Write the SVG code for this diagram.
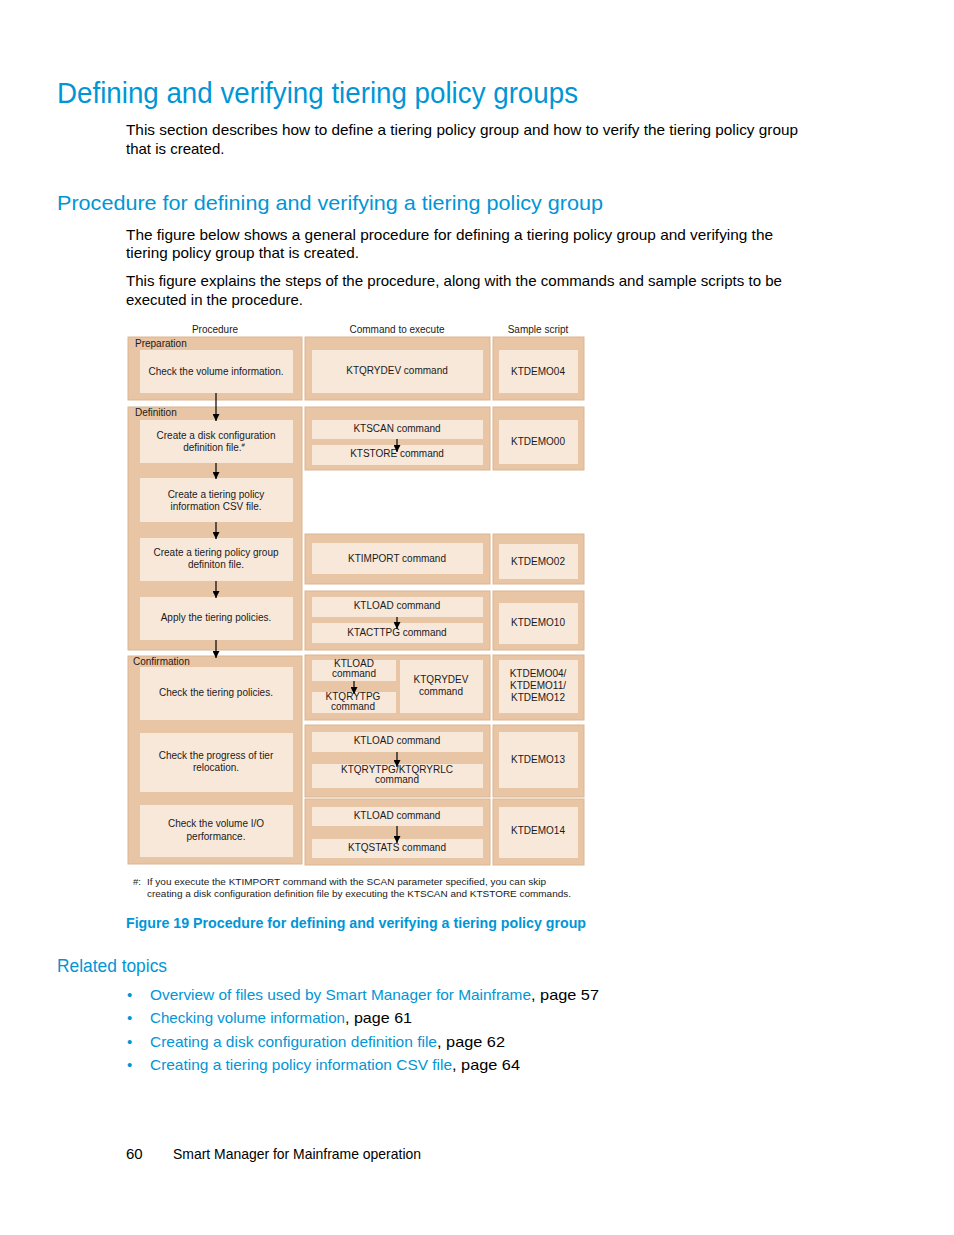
<svg xmlns="http://www.w3.org/2000/svg" width="954" height="1235" viewBox="0 0 954 1235">
<defs>
<style>
.h1{font-family:"Liberation Sans",Arial,sans-serif;font-size:29px;fill:#0096d6}
.h2{font-family:"Liberation Sans",Arial,sans-serif;font-size:21px;fill:#0096d6}
.h3{font-family:"Liberation Sans",Arial,sans-serif;font-size:18px;fill:#0096d6}
.body{font-family:"Liberation Sans",Arial,sans-serif;font-size:15px;fill:#000}
.link{font-family:"Liberation Sans",Arial,sans-serif;font-size:15px;fill:#0096d6}
.cap{font-family:"Liberation Sans",Arial,sans-serif;font-size:14px;font-weight:bold;fill:#0096d6}
.t{font-family:"Liberation Sans",Arial,sans-serif;font-size:10px;fill:#1a1a1a;text-anchor:middle}
.lbl{font-family:"Liberation Sans",Arial,sans-serif;font-size:10px;fill:#1a1a1a}
.fn{font-family:"Liberation Sans",Arial,sans-serif;font-size:9.5px;fill:#1a1a1a}
.outer{fill:#e8c5a5;stroke:#dbb593;stroke-width:1}
.inner{fill:#f8e8da;stroke:none}
.arr{stroke:#000;stroke-width:1.2;fill:none;marker-end:url(#ah)}
</style>
<marker id="ah" viewBox="0 0 10 10" refX="10" refY="5" markerWidth="8" markerHeight="7" orient="auto" markerUnits="userSpaceOnUse">
<path d="M0,0 L10,5 L0,10 z" fill="#000"/>
</marker>
</defs>
<rect width="954" height="1235" fill="#fff"/>

<text class="h1" x="57" y="103" textLength="521" lengthAdjust="spacingAndGlyphs">Defining and verifying tiering policy groups</text>
<text class="body" x="126" y="135" textLength="672" lengthAdjust="spacingAndGlyphs">This section describes how to define a tiering policy group and how to verify the tiering policy group</text>
<text class="body" x="126" y="154">that is created.</text>

<text class="h2" x="57" y="210" textLength="546" lengthAdjust="spacingAndGlyphs">Procedure for defining and verifying a tiering policy group</text>
<text class="body" x="126" y="240" textLength="647" lengthAdjust="spacingAndGlyphs">The figure below shows a general procedure for defining a tiering policy group and verifying the</text>
<text class="body" x="126" y="258" textLength="233" lengthAdjust="spacingAndGlyphs">tiering policy group that is created.</text>
<text class="body" x="126" y="286" textLength="656" lengthAdjust="spacingAndGlyphs">This figure explains the steps of the procedure, along with the commands and sample scripts to be</text>
<text class="body" x="126" y="305" textLength="177" lengthAdjust="spacingAndGlyphs">executed in the procedure.</text>

<!-- column headers -->
<text class="t" x="215" y="333">Procedure</text>
<text class="t" x="397" y="333">Command to execute</text>
<text class="t" x="538" y="333">Sample script</text>

<!-- Procedure column -->
<g id="preparation">
<rect class="outer" x="128" y="337" width="174" height="63"/>
<text class="lbl" x="135" y="347">Preparation</text>
<rect class="inner" x="140" y="350" width="153" height="43"/>
<text class="t" x="216" y="375">Check the volume information.</text>
</g>
<g id="definition">
<rect class="outer" x="128" y="407" width="174" height="243"/>
<text class="lbl" x="135" y="416">Definition</text>
</g>
<g id="step-disk">
<rect class="inner" x="140" y="420" width="153" height="43"/>
<text class="t" x="216" y="439">Create a disk configuration</text>
<text class="t" x="214" y="451">definition file.<tspan font-size="6" dy="-4">#</tspan></text>
</g>
<g id="step-csv">
<rect class="inner" x="140" y="478" width="153" height="44"/>
<text class="t" x="216" y="498">Create a tiering policy</text>
<text class="t" x="216" y="510">information CSV file.</text>
</g>
<g id="step-group">
<rect class="inner" x="140" y="538" width="153" height="43"/>
<text class="t" x="216" y="556">Create a tiering policy group</text>
<text class="t" x="216" y="568">definiton file.</text>
</g>
<g id="step-apply">
<rect class="inner" x="140" y="597" width="153" height="43"/>
<text class="t" x="216" y="621">Apply the tiering policies.</text>
</g>
<g id="confirmation">
<rect class="outer" x="128" y="656" width="174" height="208"/>
<text class="lbl" x="133" y="665">Confirmation</text>
</g>
<g id="step-check-policies">
<rect class="inner" x="140" y="667" width="153" height="53"/>
<text class="t" x="216" y="696">Check the tiering policies.</text>
</g>
<g id="step-check-progress">
<rect class="inner" x="140" y="733" width="153" height="59"/>
<text class="t" x="216" y="759">Check the progress of tier</text>
<text class="t" x="216" y="771">relocation.</text>
</g>
<g id="step-check-io">
<rect class="inner" x="140" y="805" width="153" height="52"/>
<text class="t" x="216" y="827">Check the volume I/O</text>
<text class="t" x="216" y="840">performance.</text>
</g>

<!-- Command column -->
<g id="cmd-ktqrydev">
<rect class="outer" x="305" y="337" width="185" height="63"/>
<rect class="inner" x="312" y="350" width="171" height="43"/>
<text class="t" x="397" y="374">KTQRYDEV command</text>
</g>
<g id="cmd-ktscan">
<rect class="outer" x="305" y="407" width="185" height="63"/>
<rect class="inner" x="312" y="420" width="171" height="19"/>
<text class="t" x="397" y="432">KTSCAN command</text>
<rect class="inner" x="312" y="445" width="171" height="20"/>
<text class="t" x="397" y="457">KTSTORE command</text>
</g>
<g id="cmd-ktimport">
<rect class="outer" x="305" y="534" width="185" height="50"/>
<rect class="inner" x="312" y="543" width="171" height="31"/>
<text class="t" x="397" y="562">KTIMPORT command</text>
</g>
<g id="cmd-ktload1">
<rect class="outer" x="305" y="591" width="185" height="59"/>
<rect class="inner" x="312" y="597" width="171" height="20"/>
<text class="t" x="397" y="609">KTLOAD command</text>
<rect class="inner" x="312" y="623" width="171" height="20"/>
<text class="t" x="397" y="636">KTACTTPG command</text>
</g>
<g id="cmd-confirm1">
<rect class="outer" x="305" y="655" width="185" height="65"/>
<rect class="inner" x="312" y="660" width="84" height="21"/>
<text class="t" x="354" y="667">KTLOAD</text>
<text class="t" x="354" y="677">command</text>
<rect class="inner" x="312" y="692" width="84" height="21"/>
<text class="t" x="353" y="700">KTQRYTPG</text>
<text class="t" x="353" y="710">command</text>
<rect class="inner" x="400" y="660" width="83" height="53"/>
<text class="t" x="441" y="683">KTQRYDEV</text>
<text class="t" x="441" y="695">command</text>
</g>
<g id="cmd-confirm2">
<rect class="outer" x="305" y="725" width="185" height="72"/>
<rect class="inner" x="312" y="732" width="171" height="20"/>
<text class="t" x="397" y="744">KTLOAD command</text>
<rect class="inner" x="312" y="764" width="171" height="24"/>
<text class="t" x="397" y="773">KTQRYTPG/KTQRYRLC</text>
<text class="t" x="397" y="783">command</text>
</g>
<g id="cmd-confirm3">
<rect class="outer" x="305" y="799" width="185" height="66"/>
<rect class="inner" x="312" y="807" width="171" height="19"/>
<text class="t" x="397" y="819">KTLOAD command</text>
<rect class="inner" x="312" y="839" width="171" height="19"/>
<text class="t" x="397" y="851">KTQSTATS command</text>
</g>

<!-- Sample script column -->
<g id="script-ktdemo04">
<rect class="outer" x="493" y="337" width="91" height="63"/>
<rect class="inner" x="499" y="350" width="79" height="43"/>
<text class="t" x="538" y="375">KTDEMO04</text>
</g>
<g id="script-ktdemo00">
<rect class="outer" x="493" y="407" width="91" height="63"/>
<rect class="inner" x="499" y="420" width="79" height="44"/>
<text class="t" x="538" y="445">KTDEMO00</text>
</g>
<g id="script-ktdemo02">
<rect class="outer" x="493" y="534" width="91" height="50"/>
<rect class="inner" x="499" y="544" width="79" height="35"/>
<text class="t" x="538" y="565">KTDEMO02</text>
</g>
<g id="script-ktdemo10">
<rect class="outer" x="493" y="591" width="91" height="59"/>
<rect class="inner" x="499" y="603" width="79" height="41"/>
<text class="t" x="538" y="626">KTDEMO10</text>
</g>
<g id="script-ktdemo04-11-12">
<rect class="outer" x="493" y="655" width="91" height="65"/>
<rect class="inner" x="499" y="660" width="79" height="53"/>
<text class="t" x="538" y="677">KTDEMO04/</text>
<text class="t" x="538" y="689">KTDEMO11/</text>
<text class="t" x="538" y="701">KTDEMO12</text>
</g>
<g id="script-ktdemo13">
<rect class="outer" x="493" y="725" width="91" height="72"/>
<rect class="inner" x="499" y="732" width="79" height="56"/>
<text class="t" x="538" y="763">KTDEMO13</text>
</g>
<g id="script-ktdemo14">
<rect class="outer" x="493" y="799" width="91" height="66"/>
<rect class="inner" x="499" y="807" width="79" height="51"/>
<text class="t" x="538" y="834">KTDEMO14</text>
</g>

<!-- connectors -->
<g id="connectors">
<line class="arr" x1="216" y1="393" x2="216" y2="421"/>
<line class="arr" x1="216" y1="463" x2="216" y2="479"/>
<line class="arr" x1="216" y1="522" x2="216" y2="539"/>
<line class="arr" x1="216" y1="581" x2="216" y2="598"/>
<line class="arr" x1="216" y1="640" x2="216" y2="658"/>
<line class="arr" x1="397" y1="439" x2="397" y2="452"/>
<line class="arr" x1="397" y1="617" x2="397" y2="629"/>
<line class="arr" x1="354" y1="681" x2="354" y2="694"/>
<line class="arr" x1="397" y1="752" x2="397" y2="767"/>
<line class="arr" x1="397" y1="826" x2="397" y2="843"/>
</g>

<!-- footnote -->
<text class="fn" x="133" y="885">#:</text>
<text class="fn" x="147" y="885" textLength="399" lengthAdjust="spacingAndGlyphs">If you execute the KTIMPORT command with the SCAN parameter specified, you can skip</text>
<text class="fn" x="147" y="897" textLength="424" lengthAdjust="spacingAndGlyphs">creating a disk configuration definition file by executing the KTSCAN and KTSTORE commands.</text>

<text class="cap" x="126" y="928" textLength="460" lengthAdjust="spacingAndGlyphs">Figure 19 Procedure for defining and verifying a tiering policy group</text>

<text class="h3" x="57" y="972" textLength="110" lengthAdjust="spacingAndGlyphs">Related topics</text>
<g id="related">
<text class="link" x="127" y="1000">•</text>
<text class="link" x="150" y="1000" textLength="381" lengthAdjust="spacingAndGlyphs">Overview of files used by Smart Manager for Mainframe</text>
<text class="body" x="531" y="1000" textLength="68" lengthAdjust="spacingAndGlyphs">, page 57</text>
<text class="link" x="127" y="1023">•</text>
<text class="link" x="150" y="1023" textLength="195" lengthAdjust="spacingAndGlyphs">Checking volume information</text>
<text class="body" x="345" y="1023" textLength="67" lengthAdjust="spacingAndGlyphs">, page 61</text>
<text class="link" x="127" y="1047">•</text>
<text class="link" x="150" y="1047" textLength="287" lengthAdjust="spacingAndGlyphs">Creating a disk configuration definition file</text>
<text class="body" x="437" y="1047" textLength="68" lengthAdjust="spacingAndGlyphs">, page 62</text>
<text class="link" x="127" y="1070">•</text>
<text class="link" x="150" y="1070" textLength="302" lengthAdjust="spacingAndGlyphs">Creating a tiering policy information CSV file</text>
<text class="body" x="452" y="1070" textLength="68" lengthAdjust="spacingAndGlyphs">, page 64</text>
</g>

<text class="body" x="126" y="1159" font-size="14">60</text>
<text class="body" x="173" y="1159" font-size="14" textLength="248" lengthAdjust="spacingAndGlyphs">Smart Manager for Mainframe operation</text>
</svg>
